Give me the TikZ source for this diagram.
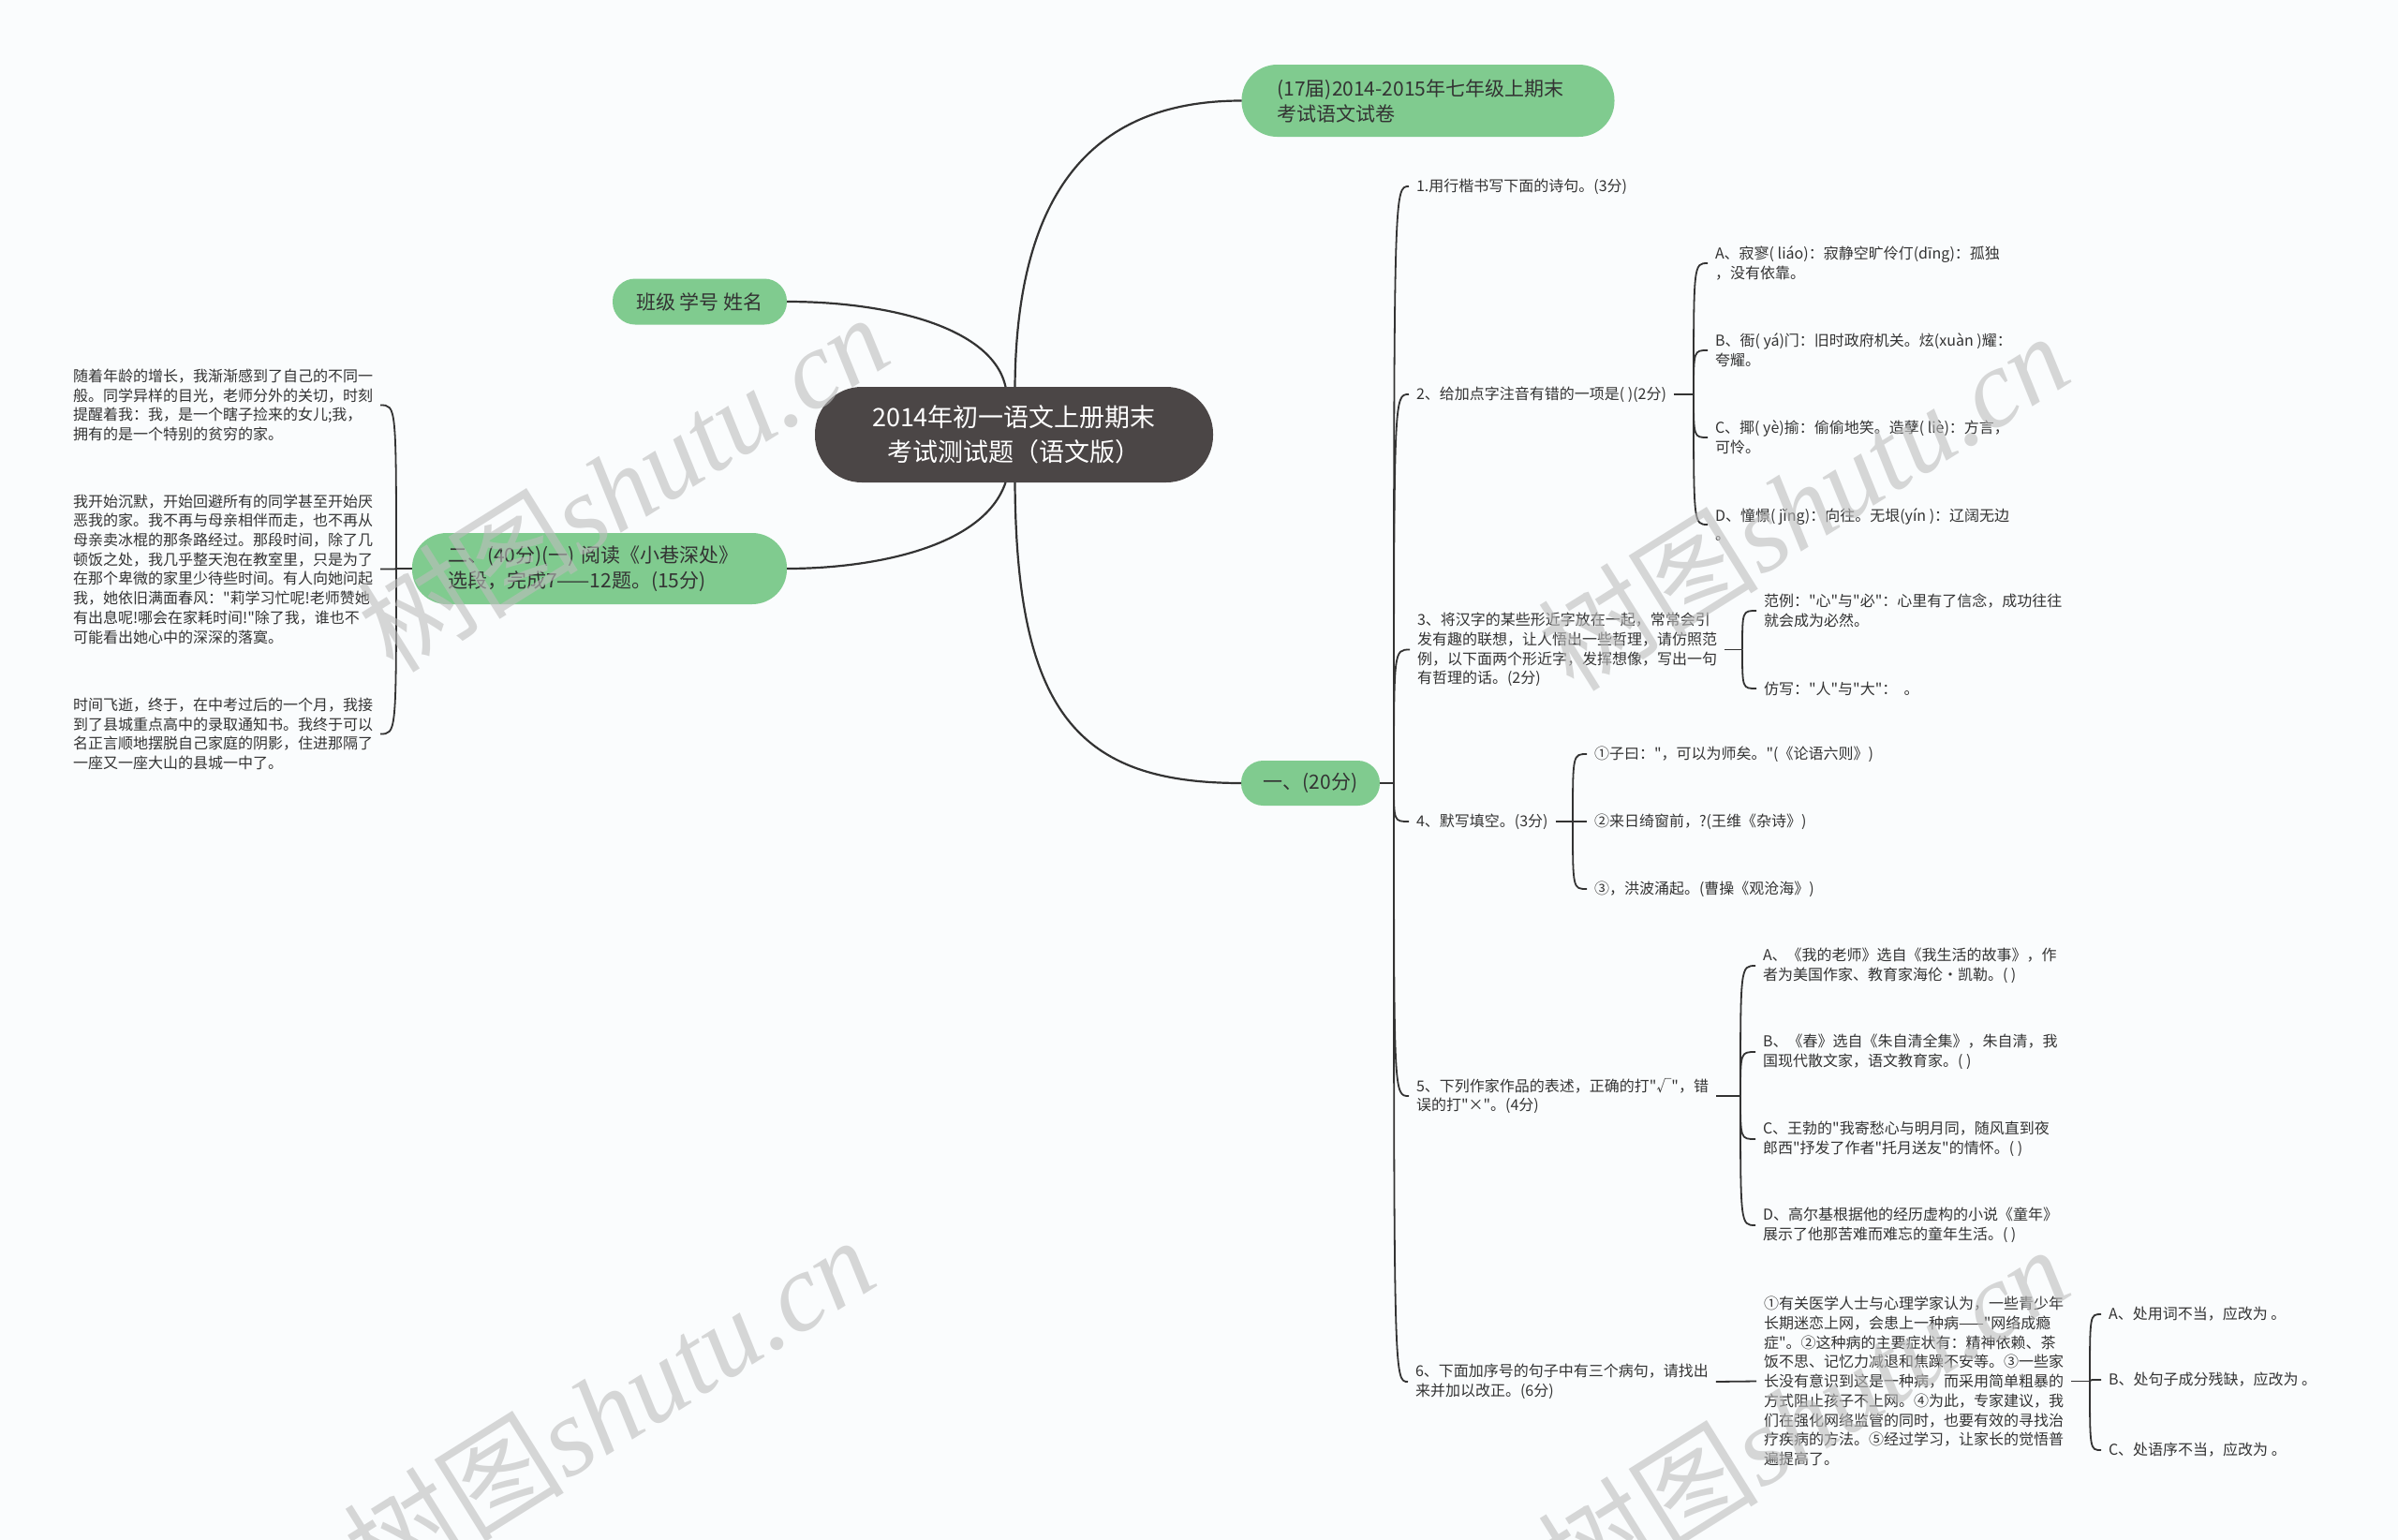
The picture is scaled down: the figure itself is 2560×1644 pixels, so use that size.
\documentclass[tikz,border=0pt]{standalone}
\usepackage{fontspec}
\setmainfont{Noto Sans CJK SC}
\newfontfamily\cjk{Noto Sans CJK SC}
\newfontfamily\wmlatin{Liberation Serif}
\newfontfamily\wmcjk{Noto Sans CJK SC}
\definecolor{bgc}{HTML}{FAFCFD}
\definecolor{grn}{HTML}{80CB8F}
\definecolor{ctr}{HTML}{4B4646}
\definecolor{lnc}{HTML}{333333}
\definecolor{txc}{HTML}{333333}
\definecolor{wmc}{HTML}{BDBDBD}
\tikzset{curl/.style={to path={.. controls (\tikztostart |- \tikztotarget) and (\tikztostart |- \tikztotarget) .. (\tikztotarget)}}}
\begin{document}
\begin{tikzpicture}[x=1pt,y=-1pt,
  every node/.style={inner sep=0pt, outer sep=0pt},
  root/.style={fill=ctr, text=white, rounded corners=50pt, minimum width=425pt, minimum height=102pt, align=center, font=\cjk\fontsize{27}{37}\selectfont},
  lvone/.style={fill=grn, text=txc, font=\cjk\fontsize{21}{27}\selectfont, align=center},
  leaf/.style={text=txc, font=\cjk\fontsize{16}{20.7}\selectfont, align=left, inner xsep=8pt, anchor=west},
  conn/.style={draw=lnc, line width=2.2pt},
  brk/.style={draw=lnc, line width=1.8pt},
  wm/.style={text=wmc, opacity=0.6, rotate=32, font=\fontsize{118}{118}\selectfont},
]
\useasboundingbox (0,0) rectangle (2560,1644);
\fill[bgc] (0,0) rectangle (2560,1644);

% central and first-level nodes
\node[root] (C) at (1082.5,464) {2014年初一语文上册期末\\考试测试题（语文版）};
\node[lvone, text width=322pt, align=left, inner xsep=38pt, minimum height=77pt, rounded corners=38pt] (T) at (1524.5,107.5) {(17届)2014-2015年七年级上期末\\考试语文试卷};
\node[lvone, minimum width=186pt, minimum height=49pt, rounded corners=24pt] (B) at (747,322) {班级 学号 姓名};
\node[lvone, text width=324pt, align=left, inner xsep=38pt, minimum height=76pt, rounded corners=37pt] (L) at (640,607) {二、(40分)(一) 阅读《小巷深处》\\选段，完成7——12题。(15分)};
\node[lvone, minimum width=148pt, minimum height=48pt, rounded corners=23.5pt] (O) at (1399,836) {一、(20分)};

% left paragraphs
\node[leaf] (P1) at (70,432.5) {随着年龄的增长，我渐渐感到了自己的不同一\\般。同学异样的目光，老师分外的关切，时刻\\提醒着我：我，是一个瞎子捡来的女儿;我，\\拥有的是一个特别的贫穷的家。};
\node[leaf] (P2) at (70,607.5) {我开始沉默，开始回避所有的同学甚至开始厌\\恶我的家。我不再与母亲相伴而走，也不再从\\母亲卖冰棍的那条路经过。那段时间，除了几\\顿饭之处，我几乎整天泡在教室里，只是为了\\在那个卑微的家里少待些时间。有人向她问起\\我，她依旧满面春风："莉学习忙呢!老师赞她\\有出息呢!哪会在家耗时间!"除了我，谁也不\\可能看出她心中的深深的落寞。};
\node[leaf] (P3) at (70,783.5) {时间飞逝，终于，在中考过后的一个月，我接\\到了县城重点高中的录取通知书。我终于可以\\名正言顺地摆脱自己家庭的阴影，住进那隔了\\一座又一座大山的县城一中了。};

% questions
\node[leaf] (Q1) at (1504,199) {1.用行楷书写下面的诗句。(3分)};
\node[leaf] (Q2) at (1504,421) {2、给加点字注音有错的一项是( )(2分)};
\node[leaf] (Q3) at (1505,693.5) {3、将汉字的某些形近字放在一起，常常会引\\发有趣的联想，让人悟出一些哲理，请仿照范\\例，以下面两个形近字，发挥想像，写出一句\\有哲理的话。(2分)};
\node[leaf] (Q4) at (1504,877) {4、默写填空。(3分)};
\node[leaf] (Q5) at (1504,1170) {5、下列作家作品的表述，正确的打"√"，错\\误的打"×"。(4分)};
\node[leaf] (Q6) at (1503,1475) {6、下面加序号的句子中有三个病句，请找出\\来并加以改正。(6分)};

% Q2 options
\node[leaf] (A2) at (1823,281) {A、寂寥( liáo)：寂静空旷伶仃(dīng)：孤独\\，没有依靠。};
\node[leaf] (B2) at (1823,374) {B、衙( yá)门：旧时政府机关。炫(xuàn )耀：\\夸耀。};
\node[leaf] (C2) at (1823,467) {C、揶( yè)揄：偷偷地笑。造孽( liè)：方言，\\可怜。};
\node[leaf] (D2) at (1823,560) {D、憧憬( jǐng)：向往。无垠(yín )：辽阔无边\\。};

% Q3 items
\node[leaf] (E3) at (1875,652) {范例："心"与"必"：心里有了信念，成功往往\\就会成为必然。};
\node[leaf] (F3) at (1875,735) {仿写："人"与"大"：\ \ 。};

% Q4 items
\node[leaf] (G4) at (1694,805) {①子曰："，可以为师矣。"(《论语六则》)};
\node[leaf] (H4) at (1694,877) {②来日绮窗前，?(王维《杂诗》)};
\node[leaf] (I4) at (1694,949) {③，洪波涌起。(曹操《观沧海》)};

% Q5 items
\node[leaf] (A5) at (1874,1031) {A、《我的老师》选自《我生活的故事》，作\\者为美国作家、教育家海伦•凯勒。( )};
\node[leaf] (B5) at (1874,1123) {B、《春》选自《朱自清全集》，朱自清，我\\国现代散文家，语文教育家。( )};
\node[leaf] (C5) at (1874,1216) {C、王勃的"我寄愁心与明月同，随风直到夜\\郎西"抒发了作者"托月送友"的情怀。( )};
\node[leaf] (D5) at (1874,1308) {D、高尔基根据他的经历虚构的小说《童年》\\展示了他那苦难而难忘的童年生活。( )};

% Q6 passage and items
\node[leaf] (S6) at (1875,1474.5) {①有关医学人士与心理学家认为，一些青少年\\长期迷恋上网，会患上一种病——"网络成瘾\\症"。②这种病的主要症状有：精神依赖、茶\\饭不思、记忆力减退和焦躁不安等。③一些家\\长没有意识到这是一种病，而采用简单粗暴的\\方式阻止孩子不上网。④为此，专家建议，我\\们在强化网络监管的同时，也要有效的寻找治\\疗疾病的方法。⑤经过学习，让家长的觉悟普\\遍提高了。};
\node[leaf] (A6) at (2243,1403) {A、处用词不当，应改为 。};
\node[leaf] (B6) at (2243,1473) {B、处句子成分残缺，应改为 。};
\node[leaf] (C6) at (2243,1548) {C、处语序不当，应改为 。};

% bracket points
\coordinate (bQ) at (1488,836);
\coordinate (b2) at (1808,421);
\coordinate (b3) at (1860,693.5);
\coordinate (b4) at (1679,877);
\coordinate (b5) at (1858,1170);
\coordinate (b6) at (2231,1474.5);
\coordinate (bL) at (423,607);

% main connectors
\draw[conn] ([xshift=1pt]C.north) .. controls (1085,200) and (1170,107.5) .. (T.west);
\draw[conn] ([xshift=-9pt]C.north) .. controls (1060,350) and (950,322) .. (B.east);
\draw[conn] ([xshift=-9pt]C.south) .. controls (1050,585) and (930,607) .. (L.east);
\draw[conn] ([xshift=1pt]C.south) .. controls (1085,760) and (1150,836) .. (O.west);

% brackets
\draw[brk] (O.east) -- (bQ);
\foreach \n in {Q1,Q2,Q3,Q4,Q5,Q6} \draw[brk] (bQ) to[curl] (\n.west);
\draw[brk] (Q2.east) -- (b2);
\foreach \n in {A2,B2,C2,D2} \draw[brk] (b2) to[curl] (\n.west);
\draw[brk] (Q3.east) -- (b3);
\foreach \n in {E3,F3} \draw[brk] (b3) to[curl] (\n.west);
\draw[brk] (Q4.east) -- (b4);
\foreach \n in {G4,H4,I4} \draw[brk] (b4) to[curl] (\n.west);
\draw[brk] (Q5.east) -- (b5);
\foreach \n in {A5,B5,C5,D5} \draw[brk] (b5) to[curl] (\n.west);
\draw[brk] (Q6.east) -- (S6.west);
\draw[brk] (S6.east) -- (b6);
\foreach \n in {A6,B6,C6} \draw[brk] (b6) to[curl] (\n.west);
\draw[brk] (L.west) -- (bL);
\foreach \n in {P1,P2,P3} \draw[brk] (bL) to[curl] (\n.east);

% watermarks
\node[wm] (W1) at (665,515) {\wmcjk 树图\wmlatin\itshape shutu.cn};
\node[wm] (W2) at (1925,535) {\wmcjk 树图\wmlatin\itshape shutu.cn};
\node[wm] (W3) at (650,1500) {\wmcjk 树图\wmlatin\itshape shutu.cn};
\node[wm] (W4) at (1925,1510) {\wmcjk 树图\wmlatin\itshape shutu.cn};
\end{tikzpicture}
\end{document}
